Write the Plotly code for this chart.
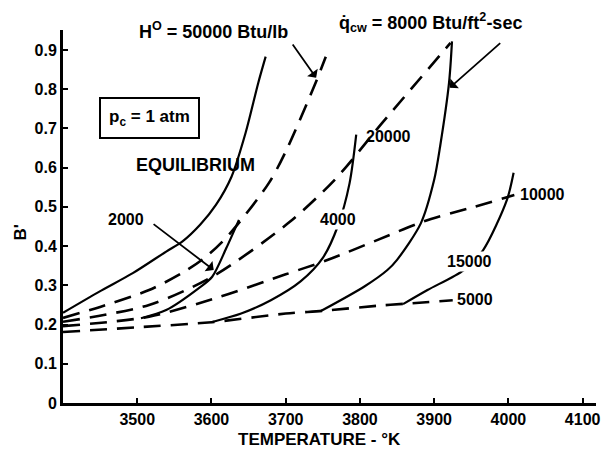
import plotly.graph_objects as go

# ---- data (temperature in K, B') ----
eq_T = [3400, 3449, 3494, 3539, 3561, 3585, 3606, 3627, 3646, 3663, 3673]
eq_B = [0.230, 0.284, 0.331, 0.386, 0.412, 0.455, 0.505, 0.577, 0.689, 0.816, 0.883]

h50000_T = [3400, 3450, 3516, 3561, 3592, 3623, 3677, 3701, 3741, 3754]
h50000_B = [0.217, 0.245, 0.288, 0.332, 0.372, 0.428, 0.560, 0.645, 0.820, 0.883]

h20000_T = [3400, 3516, 3601, 3703, 3766, 3830, 3922]
h20000_B = [0.207, 0.250, 0.322, 0.458, 0.569, 0.714, 0.918]

h10000_T = [3400, 3516, 3610, 3700, 3757, 3824, 3886, 3950, 4008]
h10000_B = [0.196, 0.220, 0.270, 0.328, 0.365, 0.416, 0.463, 0.498, 0.530]

h5000_T = [3400, 3500, 3600, 3700, 3750, 3824, 3860, 3925]
h5000_B = [0.181, 0.193, 0.206, 0.228, 0.235, 0.248, 0.253, 0.262]

q2000_T = [3505, 3539, 3583, 3601, 3620, 3637]
q2000_B = [0.216, 0.237, 0.293, 0.322, 0.395, 0.467]

q4000_T = [3600, 3640, 3680, 3720, 3750, 3770, 3786, 3795]
q4000_B = [0.206, 0.228, 0.262, 0.310, 0.370, 0.450, 0.560, 0.684]

q8000_T = [3748, 3806, 3837, 3850, 3882, 3900, 3908, 3920, 3924]
q8000_B = [0.235, 0.297, 0.339, 0.365, 0.458, 0.569, 0.654, 0.816, 0.922]

q15000_T = [3858, 3891, 3940, 3966, 3998, 4007]
q15000_B = [0.252, 0.288, 0.339, 0.390, 0.518, 0.587]

x_ticks = [3500, 3600, 3700, 3800, 3900, 4000, 4100]
y_ticks = [0, 0.1, 0.2, 0.3, 0.4, 0.5, 0.6, 0.7, 0.8, 0.9]
y_ticktext = ["0", "0.1", "0.2", "0.3", "0.4", "0.5", "0.6", "0.7", "0.8", "0.9"]

FONT = "Liberation Sans"
fig = go.Figure()

solid = dict(color="black", width=2.2, shape="spline", smoothing=0.8)
dashed = dict(color="black", width=2.6, dash="17px,10px", shape="spline", smoothing=0.8)

for T, B, nm in [(eq_T, eq_B, "Equilibrium"), (q2000_T, q2000_B, "q 2000"),
                 (q4000_T, q4000_B, "q 4000"), (q8000_T, q8000_B, "q 8000"),
                 (q15000_T, q15000_B, "q 15000")]:
    fig.add_trace(go.Scatter(x=T, y=B, mode="lines", line=solid, name=nm))

for T, B, nm in [(h50000_T, h50000_B, "H 50000"), (h20000_T, h20000_B, "H 20000"),
                 (h10000_T, h10000_B, "H 10000"), (h5000_T, h5000_B, "H 5000")]:
    fig.add_trace(go.Scatter(x=T, y=B, mode="lines", line=dashed, name=nm))

ann = []
def bfont(size):
    return dict(family=FONT, size=size, color="black", weight="bold")

def txt(x, y, s, size=17, ref="data", **kw):
    d = dict(x=x, y=y, xref="x" if ref == "data" else "paper",
             yref="y" if ref == "data" else "paper", text=s, showarrow=False,
             xanchor="center", yanchor="middle", font=bfont(size))
    d.update(kw)
    ann.append(d)

txt(0.283, 1.0, "H<sup>O</sup> = 50000 Btu/lb", size=18, ref="paper")
txt(0.690, 1.021, "q\u0307<sub>cw</sub> = 8000 Btu/ft<sup>2</sup>-sec", size=18, ref="paper")
txt(3516, 0.727, "p<sub>c</sub> = 1 atm", size=17, bordercolor="black",
    borderwidth=2, borderpad=8, bgcolor="white")
txt(3579, 0.607, "EQUILIBRIUM", size=18)
txt(3485, 0.467, "2000", size=16)
txt(3770, 0.467, "4000", size=16, bgcolor="white")
txt(3838, 0.679, "20000", size=16)
txt(4046, 0.531, "10000", size=16)
txt(3947, 0.361, "15000", size=16, bgcolor="white")
txt(3955, 0.263, "5000", size=16)

# leader lines / arrows
for hx, hy, tx, ty in [(3603, 0.339, 3520, 0.459),
                       (3741, 0.829, 3708, 0.918),
                       (3921, 0.804, 3991, 0.921)]:
    ann.append(dict(x=hx, y=hy, ax=tx, ay=ty, xref="x", yref="y", axref="x", ayref="y",
                    text="", showarrow=True, arrowhead=1, arrowsize=1.2,
                    arrowwidth=1.8, arrowcolor="black"))

# axis titles
ann.append(dict(x=-0.080, y=0.458, xref="paper", yref="paper", text="B'", showarrow=False,
                xanchor="center", yanchor="middle", textangle=-90, font=bfont(17)))
ann.append(dict(x=0.482, y=-0.099, xref="paper", yref="paper", text="TEMPERATURE - \u00b0K",
                xanchor="center", yanchor="middle", showarrow=False, font=bfont(17)))

fig.update_layout(
    width=604, height=451,
    margin=dict(l=63, r=4, t=30, b=48),
    plot_bgcolor="white", paper_bgcolor="white",
    showlegend=False,
    font=dict(family=FONT, size=16, color="black"),
    annotations=ann,
    xaxis=dict(range=[3400, 4118], tickvals=x_ticks, showline=True, linewidth=3,
               linecolor="black", ticks="inside", ticklen=5, tickwidth=1.5,
               tickcolor="black", showgrid=False, zeroline=False,
               ticklabeloverflow="allow", tickfont=bfont(16)),
    yaxis=dict(range=[0, 0.951], tickvals=y_ticks, ticktext=y_ticktext, showline=True,
               linewidth=3, linecolor="black", ticks="inside", ticklen=5, tickwidth=1.5,
               tickcolor="black", showgrid=False, zeroline=False,
               tickfont=bfont(16)),
)

fig.write_html("out.html")
